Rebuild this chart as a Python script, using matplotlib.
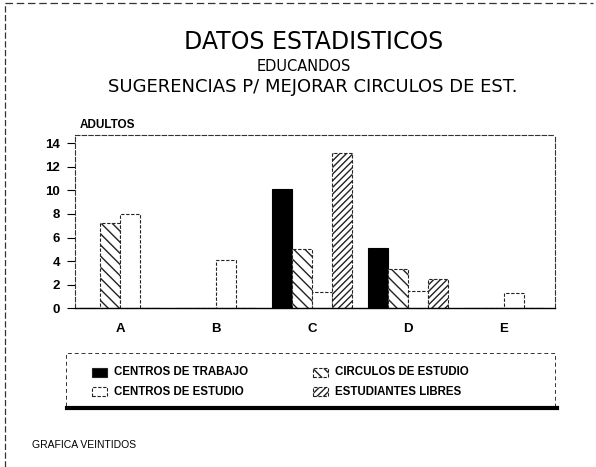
import numpy as np
import matplotlib
matplotlib.use("Agg")
import matplotlib.pyplot as plt
from matplotlib.lines import Line2D
from matplotlib.patches import Rectangle

plt.rcParams["font.family"] = ["Liberation Sans", "DejaVu Sans"]
plt.rcParams["hatch.linewidth"] = 1.0

# Data
groups = ["A", "B", "C", "D", "E"]
centros_trabajo = [0, 0, 10.1, 5.1, 0]
circulos_estudio = [7.2, 0, 5.0, 3.3, 0]
centros_estudio = [8, 4.1, 1.4, 1.5, 1.3]
estudiantes_libres = [0, 0, 13.2, 2.5, 0]
y_ticks = [0, 2, 4, 6, 8, 10, 12, 14]

fig = plt.figure(figsize=(5.96, 4.67), dpi=100)
ax = fig.add_axes([0.126, 0.340, 0.805, 0.371])

x = np.arange(len(groups))
w = 0.21
dash = (0, (3, 1.5))

b1 = ax.bar(x - 1.5 * w, centros_trabajo, w, color="black",
            edgecolor="black", linewidth=0.8)
b2 = ax.bar(x - 0.5 * w, circulos_estudio, w, color="white",
            edgecolor="#222222", hatch="\\\\\\", linewidth=0.8, linestyle=dash)
b3 = ax.bar(x + 0.5 * w, centros_estudio, w, color="white",
            edgecolor="#222222", linewidth=0.8, linestyle=dash)
b4 = ax.bar(x + 1.5 * w, estudiantes_libres, w, color="white",
            edgecolor="#222222", hatch="/////", linewidth=0.8, linestyle=dash)

ax.set_xlim(-0.47, 4.53)
ax.set_ylim(0, 14.7)
ax.set_yticks(y_ticks)
ax.set_xticks(x)
ax.set_xticklabels(groups, fontsize=9.5, fontweight="bold")
ax.tick_params(axis="y", labelsize=9.5, length=6, width=0.8, direction="out", pad=5)
ax.tick_params(axis="x", length=0, pad=11)
for lbl in ax.get_yticklabels():
    lbl.set_fontweight("bold")
for side in ["top", "right", "left"]:
    ax.spines[side].set_linestyle((0, (4, 2)))
    ax.spines[side].set_linewidth(0.8)
    ax.spines[side].set_color("#333333")
ax.spines["bottom"].set_linewidth(1.0)
ax.spines["bottom"].set_linestyle((0, (6, 1)))

ax.text(0.01, 1.025, "ADULTOS", transform=ax.transAxes, fontsize=8.5,
        fontweight="bold", ha="left", va="bottom")

# Titles
wide = ["DejaVu Sans"]
fig.text(0.527, 0.910, "DATOS ESTADISTICOS", fontsize=17, ha="center",
         va="center", family=wide)
fig.text(0.510, 0.857, "EDUCANDOS", fontsize=10.5, ha="center", va="center",
         family=wide)
fig.text(0.525, 0.814, "SUGERENCIAS P/ MEJORAR CIRCULOS DE EST.", fontsize=13,
         ha="center", va="center", family=wide)

# Legend box, drawn by hand to follow the scan
legend_items = [
    (b1, "CENTROS DE TRABAJO", 0.154, 0.203),
    (b3, "CENTROS DE ESTUDIO", 0.154, 0.161),
    (b2, "CIRCULOS DE ESTUDIO", 0.525, 0.203),
    (b4, "ESTUDIANTES LIBRES", 0.525, 0.161),
]
for bars, label, lx, ly in legend_items:
    p = bars.patches[0]
    fig.add_artist(Rectangle((lx, ly - 0.0095), 0.025, 0.019,
                             facecolor=p.get_facecolor(), edgecolor="#222222",
                             hatch=p.get_hatch(), linewidth=0.8,
                             linestyle=p.get_linestyle(),
                             transform=fig.transFigure))
    fig.text(lx + 0.037, ly, label, fontsize=8.3, fontweight="bold",
             ha="left", va="center")

fig.add_artist(Rectangle((0.110, 0.126), 0.822, 0.118, facecolor="none",
                         edgecolor="#333333", linewidth=0.7,
                         linestyle=(0, (4, 3)), transform=fig.transFigure))
fig.add_artist(Line2D([0.112, 0.935], [0.126, 0.126], color="black", linewidth=3,
                      transform=fig.transFigure))

fig.text(0.054, 0.047, "GRAFICA VEINTIDOS", fontsize=7.5, ha="left", va="center")

# Page frame from the scan
fig.add_artist(Line2D([0.008, 0.008], [0.0, 0.993], color="#333333", linewidth=0.9,
                      linestyle=(0, (5, 2)), transform=fig.transFigure))
fig.add_artist(Line2D([0.008, 0.995], [0.993, 0.993], color="#333333", linewidth=0.9,
                      linestyle=(0, (6, 3)), transform=fig.transFigure))

fig.savefig("out.png", dpi=100)
